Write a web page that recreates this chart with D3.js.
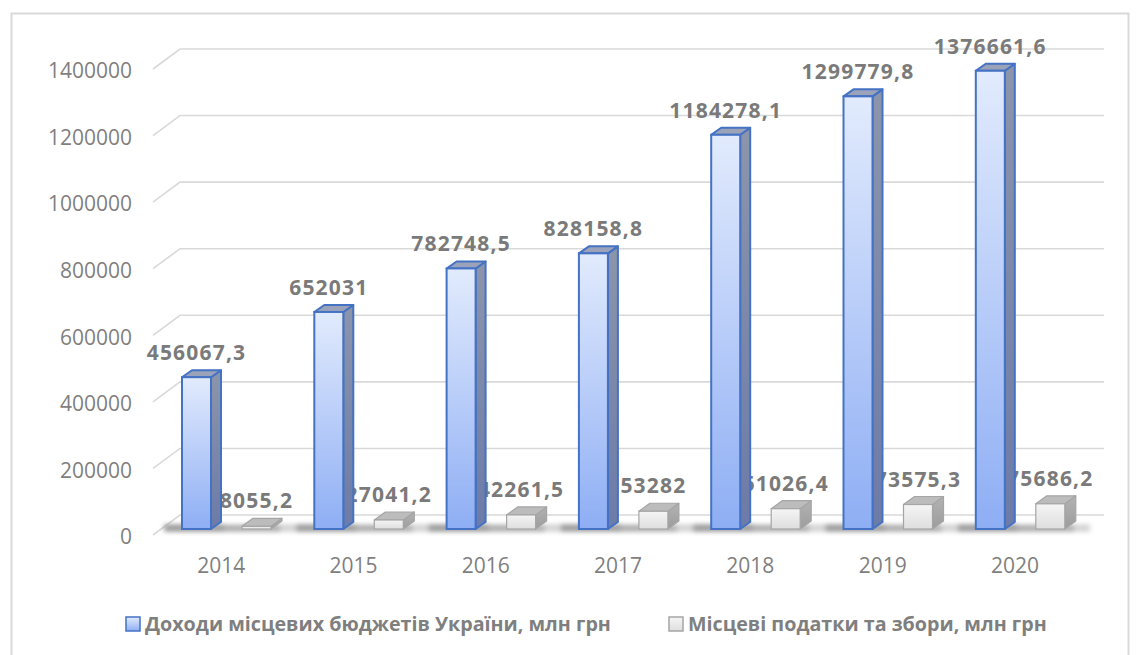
<!DOCTYPE html>
<html>
<head>
<meta charset="utf-8">
<script src="https://cdn.jsdelivr.net/npm/d3@7"></script>
<style>
  html, body { margin: 0; padding: 0; background: #ffffff; }
  svg { display: block; }
</style>
</head>
<body>
<svg id="chart" width="1141" height="655"></svg>
<script>
// ---- data ----
const years = ["2014", "2015", "2016", "2017", "2018", "2019", "2020"];
const revenues = [456067.3, 652031, 782748.5, 828158.8, 1184278.1, 1299779.8, 1376661.6];
const localTaxes = [8055.2, 27041.2, 42261.5, 53282, 61026.4, 73575.3, 75686.2];
const revenueLabels = ["456067,3", "652031", "782748,5", "828158,8", "1184278,1", "1299779,8", "1376661,6"];
const taxLabels = ["8055,2", "27041,2", "42261,5", "53282", "61026,4", "73575,3", "75686,2"];
const yTicks = [0, 200000, 400000, 600000, 800000, 1000000, 1200000, 1400000];
const seriesNames = ["Доходи місцевих бюджетів України, млн грн", "Місцеві податки та збори, млн грн"];

const svg = d3.select("#chart");
const defs = svg.append("defs");

// gradients
function vGrad(id, stops) {
  const g = defs.append("linearGradient").attr("id", id)
    .attr("x1", 0).attr("y1", 0).attr("x2", 0).attr("y2", 1);
  stops.forEach(s => g.append("stop").attr("offset", s[0]).attr("stop-color", s[1]));
}
vGrad("blueFront", [[0, "#e2ebfd"], [1, "#8eaef4"]]);
vGrad("blueSide", [[0, "#8c95ab"], [1, "#6c7ba8"]]);
vGrad("grayFront", [[0, "#f5f5f5"], [1, "#dedede"]]);
vGrad("graySide", [[0, "#b3b3b3"], [1, "#9c9c9c"]]);
defs.append("filter").attr("id", "blur").attr("x", "-20%").attr("y", "-200%").attr("width", "140%").attr("height", "500%")
  .append("feGaussianBlur").attr("stdDeviation", "2.5 2");

// ---- frame ----
svg.append("rect").attr("x", 11.5).attr("y", 13.5).attr("width", 1117).attr("height", 660)
  .attr("fill", "none").attr("stroke", "#d9d9d9").attr("stroke-width", 2);

// ---- scales ----
const y = d3.scaleLinear().domain([0, 1400000]).range([535, 69]);
const x = d3.scaleBand().domain(years).range([182, 182 + 7 * 132.3]).padding(0);

const wallDX = 27, wallDY = 20;     // depth of back wall
const barBase = 6;                   // bars sit a little behind the front edge
const barW = 29, dX = 10, dY = 7;    // bar width and 3D depth

// ---- gridlines (back wall + left diagonal) ----
const grid = svg.append("g");
yTicks.forEach(v => {
  const yy = y(v);
  grid.append("path")
    .attr("d", `M153,${yy} L${153 + wallDX},${yy - wallDY} L1104,${yy - wallDY}`)
    .attr("fill", "none").attr("stroke", "#d9d9d9").attr("stroke-width", 1.6);
});

// ---- y axis labels ----
const yAxis = d3.axisLeft(y).tickValues(yTicks).tickSize(0).tickPadding(0).tickFormat(d3.format("d"));
const yg = svg.append("g").attr("transform", "translate(132,2)").call(yAxis);
yg.select(".domain").remove();
yg.selectAll("text").attr("font-family", "Open Sans").attr("font-size", "21px").attr("fill", "#7f7f7f");

// ---- x axis labels ----
const xAxis = d3.axisBottom(x).tickSize(0).tickPadding(0);
const xg = svg.append("g").attr("transform", "translate(-27,558)").call(xAxis);
xg.select(".domain").remove();
xg.selectAll("text").attr("font-family", "Open Sans").attr("font-size", "21px").attr("fill", "#7f7f7f");

// ---- floor shadow ----
const shadow = svg.append("g").attr("filter", "url(#blur)");
shadow.append("rect").attr("x", 165).attr("y", 524).attr("width", 925).attr("height", 8)
  .attr("fill", "#bdbdbd").attr("opacity", 0.6);
years.forEach(yr => {
  shadow.append("rect").attr("x", x(yr) - 18).attr("y", 524).attr("width", 60).attr("height", 8)
    .attr("fill", "#858585").attr("opacity", 0.65);
  shadow.append("rect").attr("x", x(yr) + 42).attr("y", 525).attr("width", 56).attr("height", 7)
    .attr("fill", "#959595").attr("opacity", 0.55);
});

const labelFont = { family: "Open Sans", size: "21px", weight: 700, color: "#7a7a7a" };

// ---- gray series labels (behind the blue bars) ----
svg.append("g").selectAll("text").data(years).join("text")
  .attr("x", (d) => x(d) + 60 + barW / 2)
  .attr("y", (d, i) => y(localTaxes[i]) - barBase - 18)
  .attr("text-anchor", "middle")
  .attr("font-family", labelFont.family).attr("font-size", labelFont.size)
  .attr("font-weight", labelFont.weight).attr("fill", labelFont.color)
  .attr("letter-spacing", "1.2px")
  .text((d, i) => taxLabels[i]);

// ---- bars ----
function drawBar(g, x0, val, w, style) {
  const bottom = y(0) - barBase;
  const top = y(val) - barBase;
  g.append("path")
    .attr("d", `M${x0 + w},${top} L${x0 + w + style.dx},${top - style.dy} L${x0 + w + style.dx},${bottom - style.dy} L${x0 + w},${bottom} Z`)
    .attr("fill", style.side).attr("stroke", style.stroke).attr("stroke-width", style.sw).attr("stroke-linejoin", "round");
  g.append("path")
    .attr("d", `M${x0},${top} L${x0 + style.dx},${top - style.dy} L${x0 + w + style.dx},${top - style.dy} L${x0 + w},${top} Z`)
    .attr("fill", style.top).attr("stroke", style.stroke).attr("stroke-width", style.sw).attr("stroke-linejoin", "round");
  g.append("rect").attr("x", x0).attr("y", top).attr("width", w).attr("height", Math.max(0.5, bottom - top))
    .attr("fill", style.front).attr("stroke", style.stroke).attr("stroke-width", style.sw);
}
const blueStyle = { front: "url(#blueFront)", side: "url(#blueSide)", top: "#9aa3ba", stroke: "#4472c4", sw: 2, dx: dX, dy: dY };
const grayStyle = { front: "url(#grayFront)", side: "url(#graySide)", top: "#bcbcbc", stroke: "#a5a5a5", sw: 1.2, dx: dX + 1, dy: dY + 1 };

const bars = svg.append("g");
years.forEach((yr, i) => {
  drawBar(bars, x(yr) + 60, localTaxes[i], barW, grayStyle);
  drawBar(bars, x(yr), revenues[i], barW, blueStyle);
});

// ---- blue series labels ----
svg.append("g").selectAll("text").data(years).join("text")
  .attr("x", (d) => x(d) + barW / 2)
  .attr("y", (d, i) => y(revenues[i]) - barBase - 17)
  .attr("text-anchor", "middle")
  .attr("font-family", labelFont.family).attr("font-size", labelFont.size)
  .attr("font-weight", labelFont.weight).attr("fill", labelFont.color)
  .attr("letter-spacing", "1.2px")
  .text((d, i) => revenueLabels[i]);

// ---- legend ----
const legend = svg.append("g");
const legendItems = [
  { name: seriesNames[0], sx: 125, fill: "url(#blueFront)", stroke: "#4472c4" },
  { name: seriesNames[1], sx: 668, fill: "url(#grayFront)", stroke: "#a5a5a5" }
];
legendItems.forEach(it => {
  legend.append("rect").attr("x", it.sx + 1).attr("y", 617).attr("width", 14).attr("height", 14)
    .attr("fill", it.fill).attr("stroke", it.stroke).attr("stroke-width", 1.5);
  legend.append("text").attr("x", it.sx + 20).attr("y", 631)
    .attr("font-family", "Open Sans").attr("font-size", "19.7px").attr("font-weight", 700)
    .attr("fill", "#7f7f7f").text(it.name);
});
</script>
</body>
</html>
